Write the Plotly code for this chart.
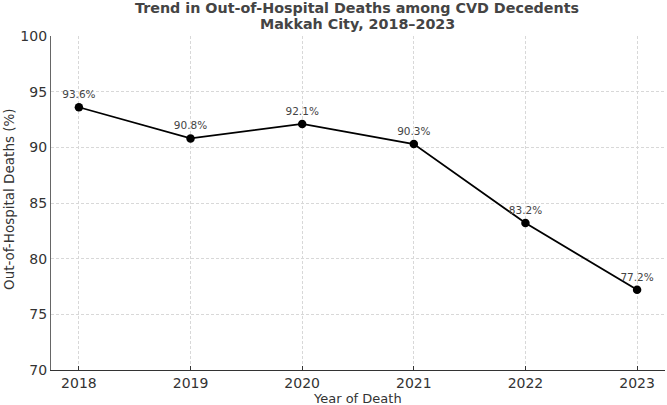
import plotly.graph_objects as go

years = [2018, 2019, 2020, 2021, 2022, 2023]
pct = [93.6, 90.8, 92.1, 90.3, 83.2, 77.2]
labels = [f"{v:.1f}%" for v in pct]
yticks = [70, 75, 80, 85, 90, 95, 100]
title_lines = ["Trend in Out-of-Hospital Deaths among CVD Decedents", "Makkah City, 2018–2023"]

fig = go.Figure()
fig.add_trace(go.Scatter(
    x=years, y=pct, mode="lines+markers+text",
    line=dict(color="black", width=1.8),
    marker=dict(color="black", size=8.5),
    text=labels, textposition="top center",
    textfont=dict(family="DejaVu Sans", size=10.5, color="#444"),
    cliponaxis=False, showlegend=False,
))

W, H = 667, 405
L, R, T, B = 51, 2, 36, 35
pw, ph = W - L - R, H - T - B

def py(pix):
    return 1 - (pix - T) / ph

def px(pix):
    return (pix - L) / pw

annots = [
    dict(text=f"<b>{title_lines[0]}</b>", xref="paper", yref="paper", x=px(357), y=py(8.5),
         xanchor="center", yanchor="middle", showarrow=False,
         font=dict(family="DejaVu Sans", size=14.3, color="#444")),
    dict(text=f"<b>{title_lines[1]}</b>", xref="paper", yref="paper", x=px(357), y=py(24.5),
         xanchor="center", yanchor="middle", showarrow=False,
         font=dict(family="DejaVu Sans", size=14.3, color="#444")),
    dict(text="Year of Death", xref="paper", yref="paper",
         x=px(357), y=py(398), xanchor="center", yanchor="middle",
         showarrow=False, font=dict(size=13, color="#333")),
    dict(text="Out-of-Hospital Deaths (%)", xref="paper", yref="paper",
         x=px(9), y=py(199), xanchor="center", yanchor="middle",
         textangle=-90, showarrow=False, font=dict(size=13.5, color="#333")),
]

fig.update_layout(
    width=W, height=H,
    margin=dict(l=L, r=R, t=T, b=B),
    paper_bgcolor="white", plot_bgcolor="white",
    font=dict(family="DejaVu Sans", color="#333"),
    annotations=annots,
)
fig.update_xaxes(
    range=[2017.75, 2023.25], tickvals=years, ticktext=[str(y) for y in years],
    showgrid=True, gridcolor="#d8d8d8", griddash="3px,2px", gridwidth=0.8,
    showline=True, linecolor="#333", linewidth=1.2,
    ticks="inside", ticklen=4, tickcolor="#333",
    tickfont=dict(size=14, color="#333"),
    zeroline=False,
)
fig.update_yaxes(
    range=[70, 100], tickvals=yticks,
    showgrid=True, gridcolor="#d8d8d8", griddash="3px,2px", gridwidth=0.8,
    showline=True, linecolor="#666", linewidth=1.2,
    ticks="", tickfont=dict(size=14, color="#333"),
    zeroline=False,
)

fig.write_html("out.html")
